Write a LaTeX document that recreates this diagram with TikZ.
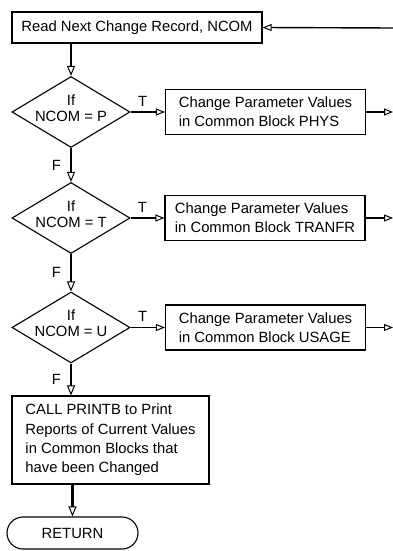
\documentclass[tikz,border=0pt]{standalone}
\usepackage{fontspec}
\setmainfont{Liberation Sans}
\usetikzlibrary{arrows.meta,shapes.geometric}
\begin{document}
\begin{tikzpicture}[x=1pt,y=-1pt,
  font=\fontsize{14.8}{19.3}\selectfont,
  box/.style={draw, line width=1.1pt, inner sep=0pt, minimum width=200pt, minimum height=45pt, align=left},
  decision/.style={draw, diamond, line width=1.1pt, inner sep=0pt, minimum width=118pt, minimum height=71pt},
  dtext/.style={inner sep=0pt, align=center, font=\fontsize{14.8}{16}\selectfont},
  flow/.style={line width=2.4pt, -{Triangle[open, length=10pt, width=8pt, line width=1pt]}},
  side/.style={line width=1.4pt, -{Triangle[open, length=9pt, width=7pt, line width=1pt]}},
  lab/.style={inner sep=0pt}
]
\useasboundingbox (0,0) rectangle (393,551);

% process boxes and decisions
\node[box, minimum width=250pt, minimum height=31pt] (read) at (137,27.5) {Read Next Change Record, NCOM};

\node[decision] (d1) at (71,112) {};
\node[dtext] (d1t) at (71,108) {If\\NCOM = P};
\node[box] (c1) at (265.5,112) {Change Parameter Values\\in Common Block PHYS};

\node[decision] (d2) at (71,218) {};
\node[dtext] (d2t) at (71,214) {If\\NCOM = T};
\node[box] (c2) at (265,218) {Change Parameter Values\\in Common Block TRANFR};

\node[decision] (d3) at (71,327.5) {};
\node[dtext] (d3t) at (71,323.5) {If\\NCOM = U};
\node[box] (c3) at (265.5,327.5) {Change Parameter Values\\in Common Block USAGE};

\node[box, minimum width=197pt, minimum height=88pt] (prt) at (110.5,440)
  {CALL PRINTB to Print\\Reports of Current Values\\in Common Blocks that\\have been Changed};

\node[draw, line width=1.1pt, rounded corners=16pt, minimum width=131pt, minimum height=32pt, inner sep=0pt] (ret) at (72.5,533) {RETURN};

% off-page ends of the loop
\coordinate (loop) at (393,28);
\coordinate (x1) at (393,112);
\coordinate (x2) at (393,218);
\coordinate (x3) at (393,327.5);

% main flow
\draw[flow] (d1.north |- read.south) -- (d1.north);
\draw[flow] (d1.south) -- node[lab, left=9pt] {F} (d2.north);
\draw[flow] (d2.south) -- node[lab, left=9pt] {F} (d3.north);
\draw[flow] (d3.south) -- node[lab, left=9pt] {F} (d3.south |- prt.north);
\draw[flow] (ret.north |- prt.south) -- (ret.north);

% true branches
\draw[side] (d1.east) -- node[lab, pos=0.35, above=5pt] {T} (c1.west);
\draw[side] (d2.east) -- node[lab, pos=0.35, above=5pt] {T} (c2.west);
\draw[side] (d3.east) -- node[lab, pos=0.35, above=5pt] {T} (c3.west);
\draw[side] (c1.east) -- (x1);
\draw[side] (c2.east) -- (x2);
\draw[side] (c3.east) -- (x3);
\draw[side] (loop) -- (read.east);
\end{tikzpicture}
\end{document}
